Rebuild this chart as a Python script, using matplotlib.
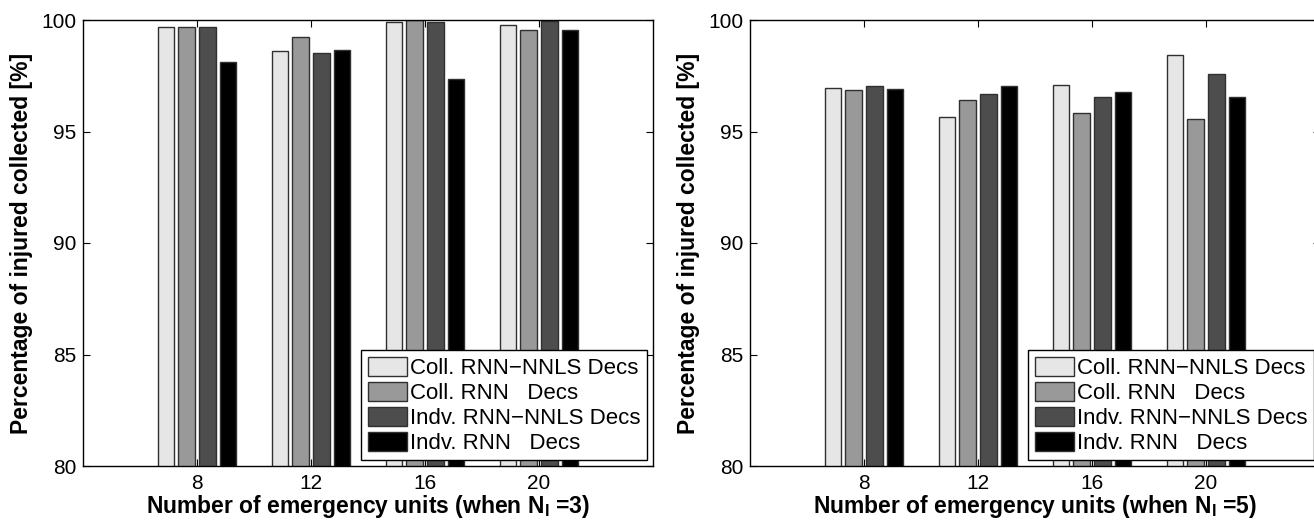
import matplotlib.pyplot as plt
import numpy as np

plt.rcParams['font.family'] = ['Liberation Sans', 'DejaVu Sans']
plt.rcParams['mathtext.fontset'] = 'custom'
plt.rcParams['mathtext.bf'] = 'Liberation Sans:bold'
plt.rcParams['mathtext.rm'] = 'Liberation Sans:bold'

units = [8, 12, 16, 20]
methods = ["Coll. RNN\u2212NNLS Decs", "Coll. RNN   Decs",
           "Indv. RNN\u2212NNLS Decs", "Indv. RNN   Decs"]
colors = ['#e6e6e6', '#999999', '#4d4d4d', '#000000']

# percentage collected, one row per method, columns follow units
pct_n3 = [[99.7, 98.63, 99.9, 99.78],
          [99.7, 99.26, 100.0, 99.55],
          [99.7, 98.54, 99.9, 99.94],
          [98.1, 98.66, 97.34, 99.56]]
pct_n5 = [[96.94, 95.66, 97.07, 98.43],
          [96.87, 96.42, 95.81, 95.55],
          [97.03, 96.67, 96.55, 97.58],
          [96.91, 97.04, 96.79, 96.55]]

fig = plt.figure(figsize=(13.14, 5.2), dpi=100)
W, H = 1314, 520
ax1 = fig.add_axes([83 / W, 54 / H, 570 / W, 446 / H])
ax2 = fig.add_axes([750 / W, 54 / H, 570 / W, 446 / H])

# grouped bar layout: 4 bars share ~73% of the spacing between groups
slot = 4 * 4 / 5.5 / 4
offsets = (np.arange(4) - 1.5) * slot
width = 0.8 * slot

for ax, data, nl in [(ax1, pct_n3, 3), (ax2, pct_n5, 5)]:
    x = np.array(units, dtype=float)
    for i in range(4):
        ax.bar(x + offsets[i], data[i], width, bottom=0, color=colors[i],
               edgecolor='#303030', linewidth=1.0, label=methods[i])
    ax.set_xlim(4, 24)
    ax.set_ylim(80, 100)
    ax.set_xticks(units)
    ax.set_yticks([80, 85, 90, 95, 100])
    ax.tick_params(direction='in', top=True, right=True, labelsize=15,
                   length=5, width=0.8)
    ax.tick_params(axis='x', pad=6)
    ax.tick_params(axis='y', pad=5)
    for s in ax.spines.values():
        s.set_linewidth(1.0)
    ax.set_xlabel('Number of emergency units (when N$_{\\mathbf{I}}$ =%d)' % nl,
                  fontsize=16.5, fontweight='bold', labelpad=0)
    ax.set_ylabel('Percentage of injured collected [%]', fontsize=16.5,
                  fontweight='bold', labelpad=6)
    leg = ax.legend(loc='lower right', fontsize=16, handlelength=1.75,
                    handleheight=0.95, handletextpad=0.15, labelspacing=0.12,
                    borderpad=0.3, borderaxespad=0.25, fancybox=False,
                    framealpha=1)
    leg.get_frame().set_edgecolor('black')
    leg.get_frame().set_linewidth(1.0)

fig.savefig('out.png', dpi=100)
